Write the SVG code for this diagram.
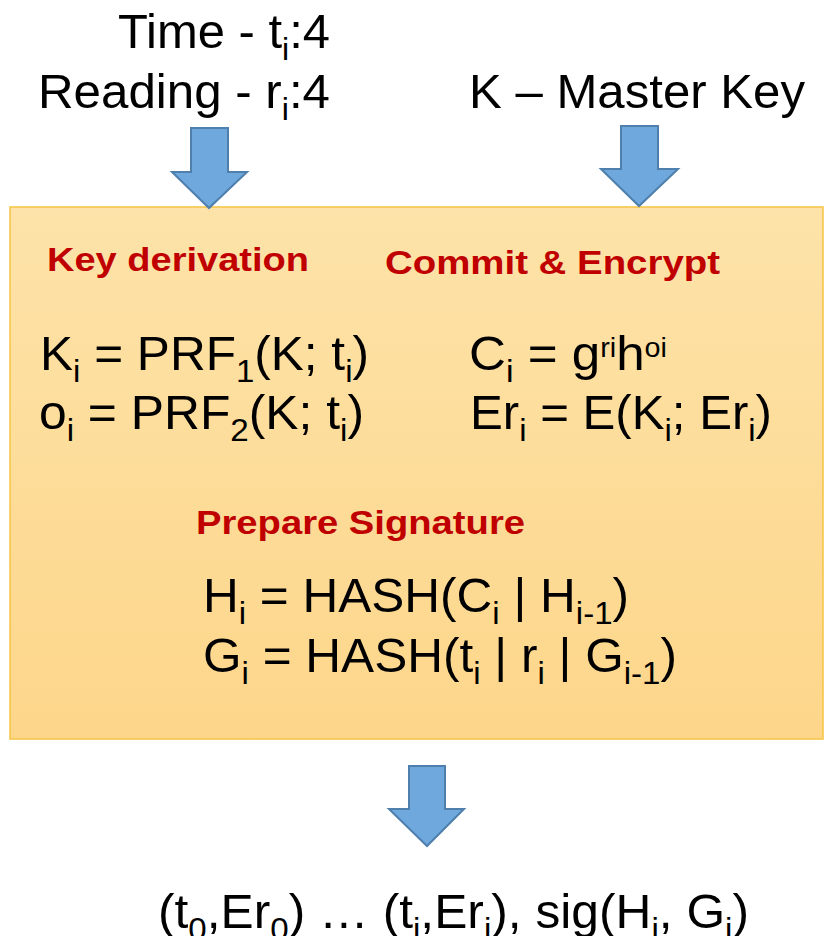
<svg xmlns="http://www.w3.org/2000/svg" width="825" height="936" viewBox="0 0 825 936">
  <defs>
    <linearGradient id="boxFill" x1="0" y1="0" x2="0" y2="1">
      <stop offset="0" stop-color="#FDE3A9"/>
      <stop offset="1" stop-color="#FDD68A"/>
    </linearGradient>
  </defs>
  <style>
    text { font-family: "Liberation Sans", Arial, sans-serif; fill: #000; }
    .big { font-size: 49px; }
    .f { font-size: 48px; }
    .sb { font-size: 32px; }
    .sp { font-size: 27px; }
    .hd { font-size: 34px; font-weight: bold; fill: #C00000; }
    .arrow { fill: #6FA8DC; stroke: #4E7FAD; stroke-width: 2; stroke-linejoin: miter; }
  </style>

  <!-- inputs -->
  <g id="inputs">
    <text class="big" x="118" y="48" textLength="212" lengthAdjust="spacingAndGlyphs">Time - t<tspan class="sb" dy="12">i</tspan><tspan dy="-12">:4</tspan></text>
    <text class="big" x="38" y="108" textLength="292" lengthAdjust="spacingAndGlyphs">Reading - r<tspan class="sb" dy="12">i</tspan><tspan dy="-12">:4</tspan></text>
  </g>
  <g id="master-key">
    <text class="big" x="469" y="108" textLength="336" lengthAdjust="spacingAndGlyphs">K – Master Key</text>
  </g>

  <!-- processing block -->
  <g id="process">
    <rect x="10" y="207" width="813" height="532" fill="url(#boxFill)" stroke="#F6C443" stroke-width="1.5"/>

    <g id="key-derivation">
      <text class="hd" x="47" y="271" textLength="262" lengthAdjust="spacingAndGlyphs">Key derivation</text>
      <text class="f" x="40" y="370" textLength="329" lengthAdjust="spacingAndGlyphs">K<tspan class="sb" dy="12">i</tspan><tspan dy="-12"> = PRF</tspan><tspan class="sb" dy="12">1</tspan><tspan dy="-12">(K; t</tspan><tspan class="sb" dy="12">i</tspan><tspan dy="-12">)</tspan></text>
      <text class="f" x="39" y="429" textLength="325" lengthAdjust="spacingAndGlyphs">o<tspan class="sb" dy="12">i</tspan><tspan dy="-12"> = PRF</tspan><tspan class="sb" dy="12">2</tspan><tspan dy="-12">(K; t</tspan><tspan class="sb" dy="12">i</tspan><tspan dy="-12">)</tspan></text>
    </g>

    <g id="commit-encrypt">
      <text class="hd" x="385" y="274" textLength="335" lengthAdjust="spacingAndGlyphs">Commit &amp; Encrypt</text>
      <text class="f" x="469" y="370" textLength="198" lengthAdjust="spacingAndGlyphs">C<tspan class="sb" dy="12">i</tspan><tspan dy="-12"> = g</tspan><tspan class="sp" dy="-13">ri</tspan><tspan dy="13">h</tspan><tspan class="sp" dy="-13">oi</tspan></text>
      <text class="f" x="470" y="429" textLength="302" lengthAdjust="spacingAndGlyphs">Er<tspan class="sb" dy="12">i</tspan><tspan dy="-12"> = E(K</tspan><tspan class="sb" dy="12">i</tspan><tspan dy="-12">; Er</tspan><tspan class="sb" dy="12">i</tspan><tspan dy="-12">)</tspan></text>
    </g>

    <g id="prepare-signature">
      <text class="hd" x="196" y="534" textLength="329" lengthAdjust="spacingAndGlyphs">Prepare Signature</text>
      <text class="f" x="203" y="612" textLength="426" lengthAdjust="spacingAndGlyphs">H<tspan class="sb" dy="12">i</tspan><tspan dy="-12"> = HASH(C</tspan><tspan class="sb" dy="12">i</tspan><tspan dy="-12"> | H</tspan><tspan class="sb" dy="12">i-1</tspan><tspan dy="-12">)</tspan></text>
      <text class="f" x="203" y="672" textLength="474" lengthAdjust="spacingAndGlyphs">G<tspan class="sb" dy="12">i</tspan><tspan dy="-12"> = HASH(t</tspan><tspan class="sb" dy="12">i</tspan><tspan dy="-12"> | r</tspan><tspan class="sb" dy="12">i</tspan><tspan dy="-12"> | G</tspan><tspan class="sb" dy="12">i-1</tspan><tspan dy="-12">)</tspan></text>
    </g>
  </g>

  <!-- output -->
  <g id="output">
    <text class="f" x="158" y="928" textLength="591" lengthAdjust="spacingAndGlyphs">(t<tspan class="sb" dy="12">0</tspan><tspan dy="-12">,Er</tspan><tspan class="sb" dy="12">0</tspan><tspan dy="-12">) … (t</tspan><tspan class="sb" dy="12">i</tspan><tspan dy="-12">,Er</tspan><tspan class="sb" dy="12">i</tspan><tspan dy="-12">), sig(H</tspan><tspan class="sb" dy="12">i</tspan><tspan dy="-12">, G</tspan><tspan class="sb" dy="12">i</tspan><tspan dy="-12">)</tspan></text>
  </g>

  <!-- block arrows -->
  <g id="connectors">
    <path class="arrow" d="M191,128 H228 V172 H247 L209,208 L172,172 H191 Z"/>
    <path class="arrow" d="M621,126 H658 V169 H678 L639,206 L601,169 H621 Z"/>
    <path class="arrow" d="M409,766 H445 V809 H464 L427,846 L389,809 H409 Z"/>
  </g>
</svg>
